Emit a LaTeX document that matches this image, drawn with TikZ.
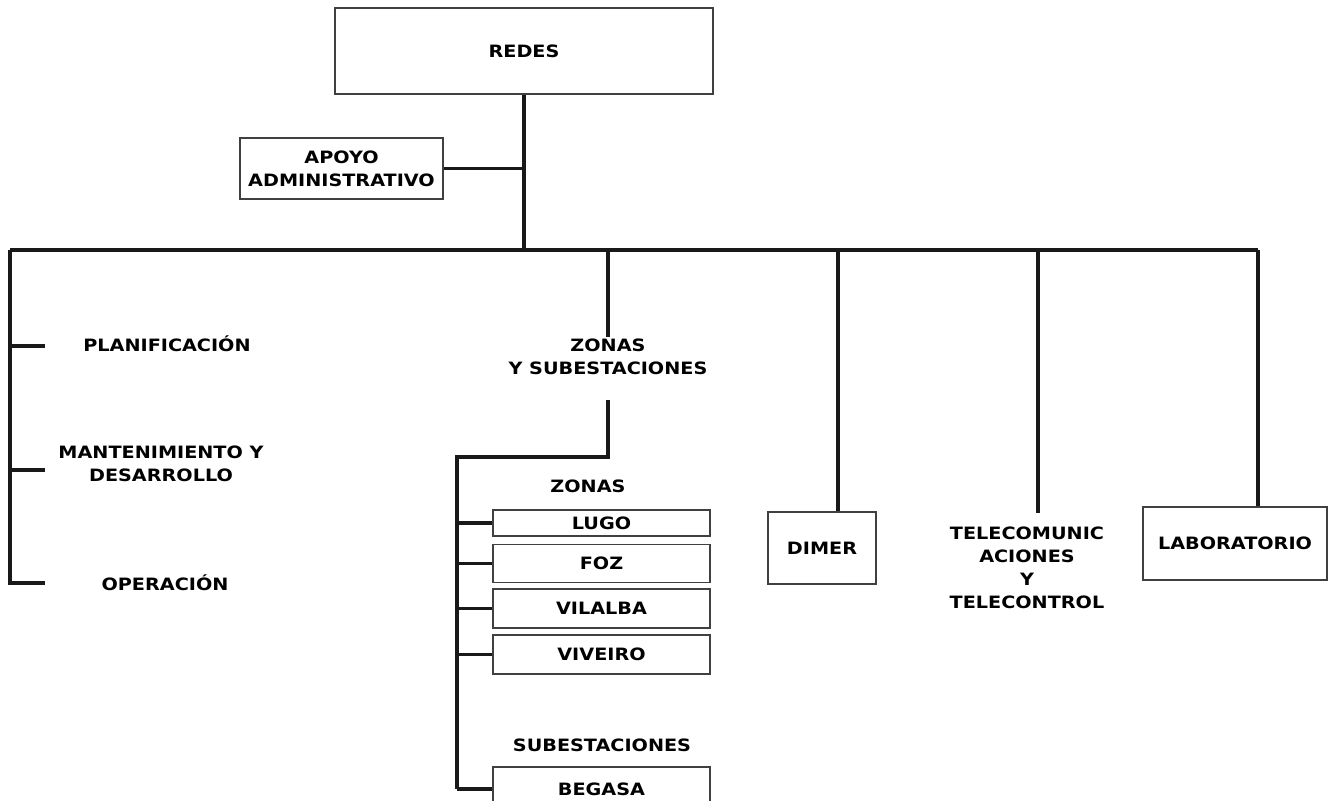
\documentclass[tikz,border=0pt]{standalone}
\usepackage{fontspec}
\setmainfont{DejaVu Sans}[FakeStretch=1.13]
\usetikzlibrary{positioning,calc}

\begin{document}
\begin{tikzpicture}[
    x=0.5pt, y=-0.5pt,
    every node/.style = {font=\fontsize{8.5}{11.5}\selectfont\bfseries,
                         align=center, inner sep=1pt},
    box/.style  = {rectangle, draw=black!75, line width=0.6pt},
    zbox/.style = {box, minimum width=108.5pt},
    bus/.style  = {line width=1.7pt, black!90},
]
\useasboundingbox (0,0) rectangle (1332,800);

% top
\node[box, minimum width=189pt, minimum height=43pt] (redes) at (524,51) {REDES};
\node[box, minimum width=101.5pt, minimum height=30.5pt] (apoyo) at (341.5,168.5)
     {APOYO\\ADMINISTRATIVO};

% left column
\node (planif) at (167,344) {PLANIFICACIÓN};
\node (mant)   at (161,464) {MANTENIMIENTO Y\\DESARROLLO};
\node (oper)   at (165,583) {OPERACIÓN};

% zonas y subestaciones
\node (zs)    at (608,357) {ZONAS\\Y SUBESTACIONES};
\node (zonas) at (588,486) {ZONAS};
\node[zbox, minimum height=13pt]   (lugo)    at (601.5,523)   {LUGO};
\node[zbox, minimum height=19pt]   (foz)     at (601.5,563.5) {FOZ};
\node[zbox, minimum height=19.5pt] (vilalba) at (601.5,608.5) {VILALBA};
\node[zbox, minimum height=19.5pt] (viveiro) at (601.5,654.5) {VIVEIRO};
\node (subes) at (602,745) {SUBESTACIONES};
\node[zbox, minimum height=22pt]   (begasa)  at (601.5,789)   {BEGASA};

% right units
\node[box, minimum width=54pt, minimum height=36pt] (dimer) at (822,548) {DIMER};
\node (telecom) at (1027,568) {TELECOMUNIC\\ACIONES\\Y\\TELECONTROL};
\node[box, minimum width=92pt, minimum height=36.5pt] (lab) at (1235,543.5) {LABORATORIO};

% connectors
\coordinate (busL) at (10,250);
\coordinate (busR) at (1258,250);
\draw[bus] (redes.south) -- (redes.south |- busL);
\draw[bus] (apoyo.east) -- (apoyo.east -| redes.south);
\draw[bus] (busL) -- (busR);

\coordinate (planifend) at (45,346);
\coordinate (mantend)   at (45,470);
\coordinate (operend)   at (45,583);
\draw[bus] (busL) |- (operend);
\draw[bus] (busL |- planifend) -- (planifend);
\draw[bus] (busL |- mantend) -- (mantend);

\coordinate (zsd) at (608,400);
\coordinate (zsb) at (457,457);
\draw[bus] (zs.north |- busL) -- (zs.north);
\draw[bus] (zsd) |- (zsb) -- (zsb |- begasa.west);
\foreach \n in {lugo,foz,vilalba,viveiro,begasa}
    \draw[bus] (zsb |- \n.west) -- (\n.west);

\draw[bus] ([xshift=8pt]dimer.north |- busL) -- ([xshift=8pt]dimer.north);
\draw[bus] ([xshift=5.5pt]telecom.north |- busL) -- ([xshift=5.5pt,yshift=6pt]telecom.north);
\draw[bus] (busR) -- (busR |- lab.north);
\end{tikzpicture}
\end{document}
